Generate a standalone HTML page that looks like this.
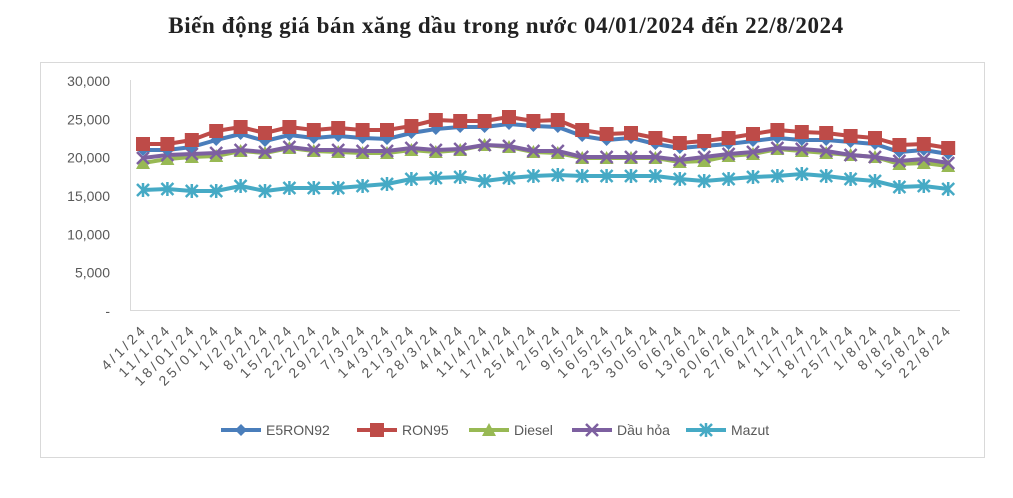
<!DOCTYPE html>
<html><head><meta charset="utf-8"><style>
body{margin:0;background:#fff;width:1013px;height:493px;overflow:hidden}
</style></head><body>
<svg id="s" width="1013" height="493" xmlns="http://www.w3.org/2000/svg" font-family="Liberation Sans, sans-serif">
<text x="506" y="33" text-anchor="middle" font-family="Liberation Serif, serif" font-weight="bold" font-size="23" letter-spacing="0.6" fill="#222">Biến động giá bán xăng dầu trong nước 04/01/2024 đến 22/8/2024</text>
<rect x="40.5" y="62.5" width="944" height="395" fill="none" stroke="#d9d9d9"/>
<line x1="130.5" y1="80" x2="130.5" y2="310" stroke="#d9d9d9"/>
<line x1="130" y1="310.5" x2="960" y2="310.5" stroke="#d9d9d9"/>
<g id="g"></g>
</svg>
<script>
const g=document.getElementById('g');let h='';
const yl=['30,000','25,000','20,000','15,000','10,000','5,000','-'];
yl.forEach((t,i)=>{h+=`<text x="110" y="${86+i*38.33}" text-anchor="end" font-size="14" fill="#595959">${t}</text>`});
const labs=['4/1/24','11/1/24','18/01/24','25/01/24','1/2/24','8/2/24','15/2/24','22/2/24','29/2/24','7/3/24','14/3/24','21/3/24','28/3/24','4/4/24','11/4/24','17/4/24','25/4/24','2/5/24','9/5/24','16/5/24','23/5/24','30/5/24','6/6/24','13/6/24','20/6/24','27/6/24','4/7/24','11/7/24','18/7/24','25/7/24','1/8/24','8/8/24','15/8/24','22/8/24'];
const X=i=>143+i*24.4;
labs.forEach((t,i)=>{h+=`<text transform="translate(${X(i)+5},330) rotate(-45)" text-anchor="end" font-size="14" letter-spacing="3.2" fill="#595959">${t}</text>`});
const S={
r:[144,144,140,131,127,133,127,130,128,130,130,126,120,121,121,117,121,120,130,134,133,138,143,141,138,134,130,132,133,136,138,145,144,148],
e:[150,150,147,140,134,141,135,138,136,138,139,133,129,127,127,124,126,127,136,140,138,144,148,146,144,141,138,140,140,142,144,152,150,154],
k:[158,155,154,153,150,152,147,150,150,151,151,148,150,149,145,146,151,151,157,157,157,157,160,157,154,152,148,149,151,155,157,161,159,163],
d:[163,159,157,156,151,153,148,151,152,153,153,150,152,150,145,147,152,153,158,158,158,158,162,161,156,154,149,151,153,155,157,164,163,166],
m:[190,189,191,191,186,191,188,188,188,186,184,179,178,177,181,178,176,175,176,176,176,176,179,181,179,177,176,174,176,179,181,187,186,189]};
const C={e:'#4a7ebb',r:'#be4b48',d:'#98b954',k:'#7d60a0',m:'#46aac5'};
function mk(k,x,y){const c=C[k];
if(k=='e')return `<path d="M${x} ${y-6}L${x+6} ${y}L${x} ${y+6}L${x-6} ${y}Z" fill="${c}"/>`;
if(k=='r')return `<rect x="${x-7}" y="${y-7}" width="14" height="14" fill="${c}"/>`;
if(k=='d')return `<path d="M${x} ${y-7}L${x+7} ${y+6}L${x-7} ${y+6}Z" fill="${c}"/>`;
if(k=='k')return `<path d="M${x-6} ${y-6}L${x+6} ${y+6}M${x+6} ${y-6}L${x-6} ${y+6}" stroke="${c}" stroke-width="2.5"/>`;
return `<path d="M${x-6} ${y-6}L${x+6} ${y+6}M${x+6} ${y-6}L${x-6} ${y+6}M${x} ${y-7}L${x} ${y+7}" stroke="${c}" stroke-width="2.5"/>`;}
['m','d','k','e','r'].forEach(k=>{const p=S[k].map((y,i)=>X(i)+','+y).join(' ');
h+=`<polyline points="${p}" fill="none" stroke="${C[k]}" stroke-width="4" stroke-linejoin="round"/>`;
S[k].forEach((y,i)=>h+=mk(k,X(i),y));});
const L=[['e','E5RON92',221],['r','RON95',357],['d','Diesel',469],['k','Dầu hỏa',572],['m','Mazut',686]];
L.forEach(([k,t,x])=>{h+=`<line x1="${x}" y1="430" x2="${x+40}" y2="430" stroke="${C[k]}" stroke-width="4"/>`+mk(k,x+20,430)+`<text x="${x+45}" y="435" font-size="14" fill="#595959">${t}</text>`});
g.innerHTML=h;
</script>
</body></html>
